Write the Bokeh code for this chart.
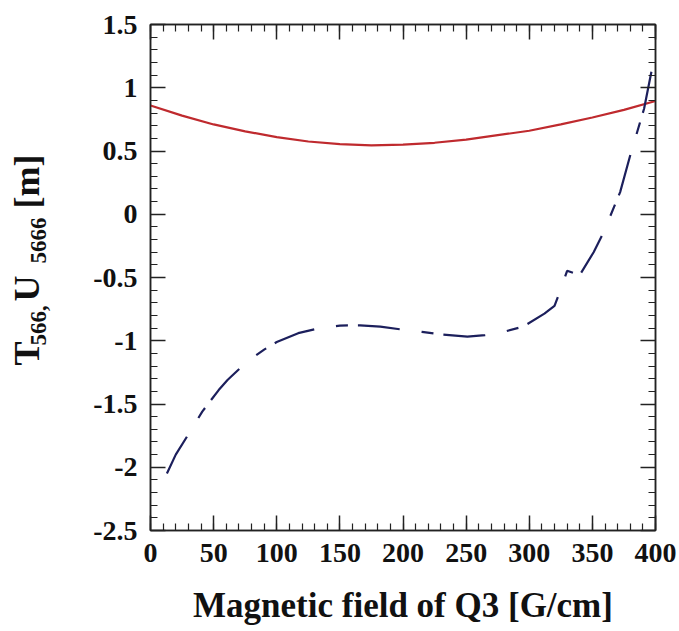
import math
from bokeh.plotting import figure
from bokeh.layouts import row
from bokeh.models import (LinearAxis, FixedTicker, Range1d, Label)
from bokeh.embed import file_html
from bokeh.resources import INLINE

# ---------------- data ----------------
field_T = [0, 25, 50, 75, 100, 125, 150, 175, 200, 225, 250, 275, 300, 325, 350, 375, 400]
T566 = [0.86, 0.78, 0.71, 0.655, 0.61, 0.575, 0.555, 0.545, 0.55, 0.565, 0.59, 0.625,
        0.66, 0.71, 0.765, 0.825, 0.895]

field_U = [13, 20, 30, 41, 54, 61, 69, 80, 90, 100, 117, 134, 150, 166, 182, 198, 215,
           230, 251, 265, 277, 295, 312, 320, 323, 330, 340, 351, 359, 372, 380, 391, 400]
U5666 = [-2.05, -1.90, -1.74, -1.56, -1.39, -1.31, -1.235, -1.14, -1.07, -1.01, -0.94,
         -0.90, -0.88, -0.878, -0.889, -0.91, -0.93, -0.95, -0.968, -0.955, -0.937,
         -0.889, -0.786, -0.725, -0.645, -0.447, -0.48, -0.30, -0.14, 0.175, 0.466,
         0.836, 1.29]

x_ticks = [0, 50, 100, 150, 200, 250, 300, 350, 400]
x_tick_labels = ["0", "50", "100", "150", "200", "250", "300", "350", "400"]
x_minor = list(range(0, 401, 10))
y_ticks = [-2.5, -2, -1.5, -1, -0.5, 0, 0.5, 1, 1.5]
y_tick_labels = ["-2.5", "-2", "-1.5", "-1", "-0.5", "0", "0.5", "1", "1.5"]
y_minor = [round(-2.5 + 0.1 * i, 1) for i in range(41)]

x_label = "Magnetic field of Q3 [G/cm]"
y_label_parts = [("T", "main"), ("566,", "sub"), ("U", "main"), ("5666", "sub"), ("[m]", "main")]

FONT = "Liberation Serif"
H = 631
LW = 70          # width of the strip carrying the rotated y-axis title
BOTTOM = 101     # bottom border of the plot frame

# ---------------- main figure ----------------
p = figure(width=679 - LW, height=H, output_backend="svg", toolbar_location=None,
           x_range=Range1d(0, 400), y_range=Range1d(-2.5, 1.5),
           min_border_left=150 - LW, min_border_right=24, min_border_top=24,
           min_border_bottom=BOTTOM, x_axis_type=None, y_axis_type=None)
p.background_fill_color = "white"
p.border_fill_color = "white"
p.outline_line_color = "#222222"
p.outline_line_width = 1.5
p.xgrid.visible = False
p.ygrid.visible = False


def style_axis(ax, ticks, minor, overrides, show_labels):
    ax.ticker = FixedTicker(ticks=ticks, minor_ticks=minor)
    ax.major_tick_in = 15
    ax.major_tick_out = 0
    ax.minor_tick_in = 7
    ax.minor_tick_out = 0
    ax.axis_line_color = "#222222"
    ax.axis_line_width = 1.5
    ax.major_tick_line_color = "#222222"
    ax.major_tick_line_width = 1.5
    ax.minor_tick_line_color = "#222222"
    ax.minor_tick_line_width = 1.2
    ax.major_label_overrides = overrides
    if show_labels:
        ax.major_label_text_font = FONT
        ax.major_label_text_font_style = "bold"
        ax.major_label_text_font_size = "28px"
        ax.major_label_text_color = "#111111"
    else:
        ax.major_label_text_font_size = "1px"
        ax.major_label_text_color = None
        ax.major_label_standoff = 0


x_over = {t: s for t, s in zip(x_ticks, x_tick_labels)}
y_over = {t: s for t, s in zip(y_ticks, y_tick_labels)}

xb = LinearAxis()
style_axis(xb, x_ticks, x_minor, x_over, True)
xb.major_label_standoff = 13
xb.axis_label = x_label
xb.axis_label_text_font = FONT
xb.axis_label_text_font_style = "bold"
xb.axis_label_text_font_size = "35px"
xb.axis_label_text_color = "#111111"
xb.axis_label_standoff = 21
p.add_layout(xb, "below")

xt = LinearAxis()
style_axis(xt, x_ticks, x_minor, x_over, False)
p.add_layout(xt, "above")

yl = LinearAxis()
style_axis(yl, y_ticks, y_minor, y_over, True)
yl.major_label_standoff = 13
p.add_layout(yl, "left")

yr = LinearAxis()
style_axis(yr, y_ticks, y_minor, y_over, False)
p.add_layout(yr, "right")

p.line(field_T, T566, line_color="#bf2a2e", line_width=2.2)
p.line(field_U, U5666, line_color="#1c1f5c", line_width=2.2, line_dash="42 22 12 10")

# ---------------- strip with the rotated y-axis title ----------------
t = figure(width=LW, height=H, output_backend="svg", toolbar_location=None,
           x_range=Range1d(0, LW), y_range=Range1d(0, H), min_border=0,
           x_axis_type=None, y_axis_type=None)
t.outline_line_color = None
t.xgrid.visible = False
t.ygrid.visible = False
t.background_fill_color = "white"
t.border_fill_color = "white"

# (baseline x in px from the left edge, start of piece in px from the top)
piece_pos = [(26, 365), (38, 345), (26, 301), (38, 263), (26, 208)]
FRAME_BOTTOM = H - BOTTOM
for (txt, kind), (bx, ty) in zip(y_label_parts, piece_pos):
    t.add_layout(Label(x=bx, y=FRAME_BOTTOM - ty, x_units="screen", y_units="screen",
                       text=txt, angle=math.pi / 2, text_align="left",
                       text_baseline="alphabetic",
                       text_font=FONT, text_font_style="bold",
                       text_font_size="36px" if kind == "main" else "23px",
                       text_color="#111111"))

layout = row(t, p, spacing=0)
open("out.html", "w").write(file_html(layout, INLINE))
